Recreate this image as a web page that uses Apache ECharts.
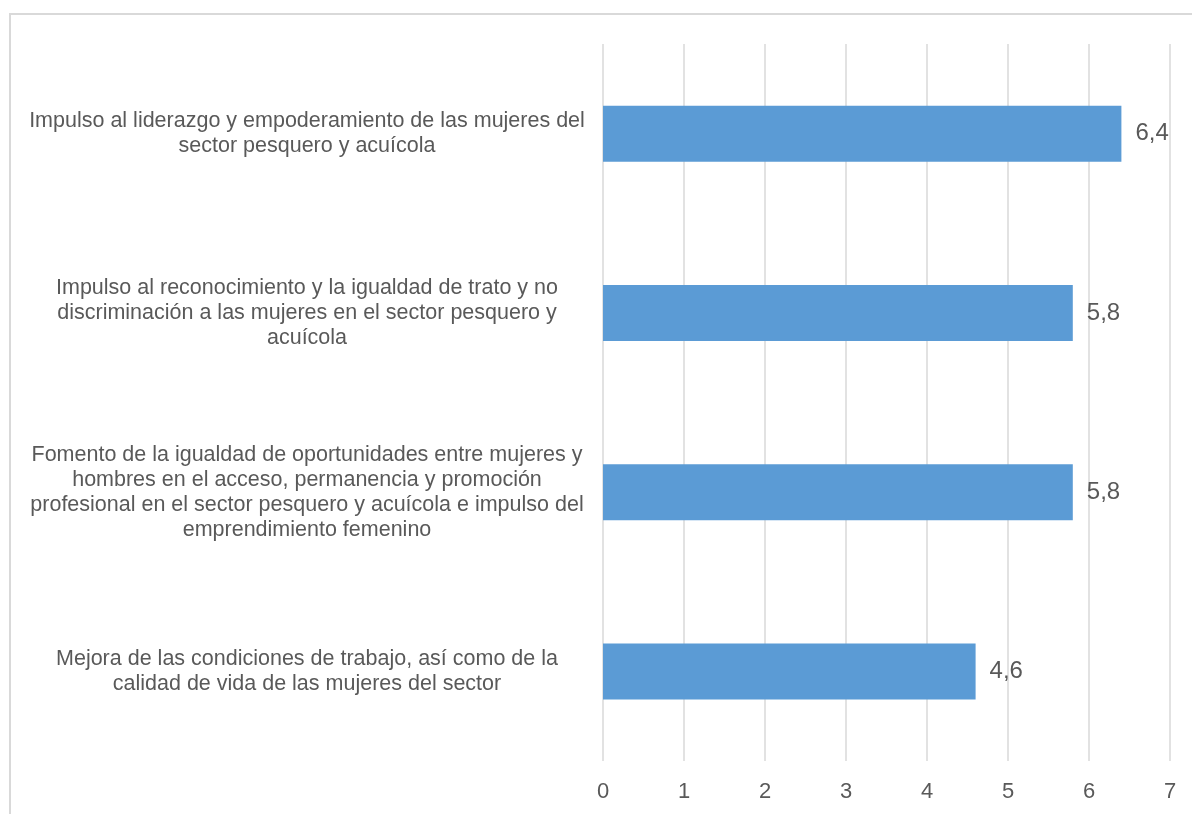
<!DOCTYPE html>
<html>
<head>
<meta charset="utf-8">
<script src="https://cdn.jsdelivr.net/npm/echarts@6/dist/echarts.min.js"></script>
<style>
  html, body { margin: 0; padding: 0; background: #ffffff; }
  #chart { width: 1192px; height: 814px; }
</style>
</head>
<body>
<div id="chart"></div>
<script>
// Measures, listed top to bottom
const categories = [
  'Impulso al liderazgo y empoderamiento de las mujeres del\nsector pesquero y acuícola',
  'Impulso al reconocimiento y la igualdad de trato y no\ndiscriminación a las mujeres en el sector pesquero y\nacuícola',
  'Fomento de la igualdad de oportunidades entre mujeres y\nhombres en el acceso, permanencia y promoción\nprofesional en el sector pesquero y acuícola e impulso del\nemprendimiento femenino',
  'Mejora de las condiciones de trabajo, así como de la\ncalidad de vida de las mujeres del sector'
];
const values = [6.4, 5.8, 5.8, 4.6];
const xTicks = [0, 1, 2, 3, 4, 5, 6, 7];

const textColor = '#595959';
const fontFamily = '"Liberation Sans", Arial, sans-serif';

const chart = echarts.init(document.getElementById('chart'), null, { renderer: 'canvas' });

chart.setOption({
  animation: false,
  backgroundColor: '#ffffff',
  textStyle: { fontFamily: fontFamily },
  graphic: [{
    type: 'rect',
    silent: true,
    shape: { x: 10, y: 14, width: 1400, height: 1000 },
    style: { fill: 'none', stroke: '#d9d9d9', lineWidth: 2 }
  }],
  grid: { left: 603, right: 22, top: 44, bottom: 53, containLabel: false },
  xAxis: {
    type: 'value',
    min: xTicks[0],
    max: xTicks[xTicks.length - 1],
    interval: 1,
    axisLine: { show: false },
    axisTick: { show: false },
    splitLine: { show: true, lineStyle: { color: '#d9d9d9', width: 1.5 } },
    axisLabel: {
      color: textColor,
      fontSize: 22,
      fontFamily: fontFamily,
      margin: 20,
      formatter: v => String(v)
    }
  },
  yAxis: {
    type: 'category',
    data: categories,
    inverse: true,
    axisLine: { show: false },
    axisTick: { show: false },
    splitLine: { show: false },
    axisLabel: {
      color: textColor,
      fontSize: 21.5,
      lineHeight: 25,
      fontFamily: fontFamily,
      align: 'center',
      margin: 296,
      padding: [12, 0, 0, 0]
    }
  },
  series: [{
    type: 'bar',
    data: values,
    barWidth: 56,
    itemStyle: { color: '#5b9bd5' },
    label: {
      show: true,
      position: 'right',
      distance: 14,
      color: textColor,
      fontSize: 24,
      fontFamily: fontFamily,
      formatter: p => String(p.value).replace('.', ',')
    }
  }]
});
</script>
</body>
</html>
